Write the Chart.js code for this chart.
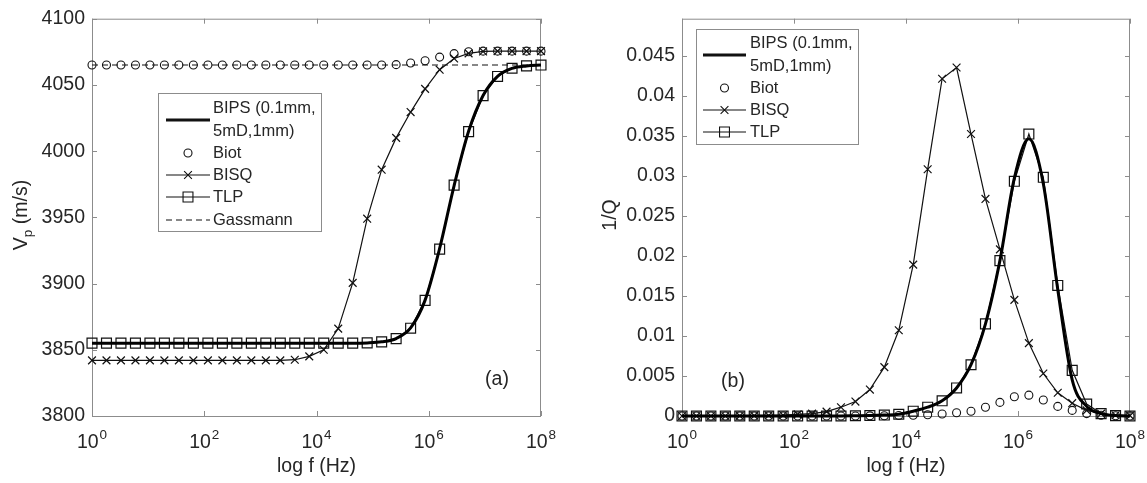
<!DOCTYPE html>
<html>
<head>
<meta charset="utf-8">
<script src="https://cdn.jsdelivr.net/npm/chart.js@4.4.1/dist/chart.umd.min.js"></script>
<style>
  body { margin: 0; background: #fff; }
  #wrap { position: relative; width: 1147px; height: 483px; }
  .pane { position: absolute; top: 0; height: 483px; }
</style>
</head>
<body>
<div id="wrap">
  <div class="pane" style="left:0;width:573px"><canvas id="vpChart" width="573" height="483"></canvas></div>
  <div class="pane" style="left:573px;width:574px"><canvas id="qChart" width="574" height="483"></canvas></div>
</div>
<script>
// log10 of frequency (Hz) at each computed point
const logFreq = [0, 0.258, 0.516, 0.774, 1.032, 1.290, 1.548, 1.806, 2.065, 2.323, 2.581, 2.839, 3.097, 3.355, 3.613, 3.871,
  4.129, 4.387, 4.645, 4.903, 5.161, 5.419, 5.677, 5.935, 6.194, 6.452, 6.710, 6.968, 7.226, 7.484, 7.742, 8];

const freqTicks = [1, 1e2, 1e4, 1e6, 1e8];
const freqTickExp = ['0', '2', '4', '6', '8'];
const vpTicks = [3800, 3850, 3900, 3950, 4000, 4050, 4100];
const qTicks = [0, 0.005, 0.01, 0.015, 0.02, 0.025, 0.03, 0.035, 0.04, 0.045];

// (a) P-wave velocity, m/s
const vpBips = [3855, 3855, 3855, 3855, 3855, 3855, 3855, 3855, 3855, 3855, 3855, 3855, 3855, 3855, 3855, 3855,
  3855, 3855, 3855, 3855.2, 3856, 3858.5, 3866.5, 3887.5, 3926.5, 3974, 4015, 4042, 4056.5, 4062.5, 4064.3, 4065];
const vpBiot = [4065, 4065, 4065, 4065, 4065, 4065, 4065, 4065, 4065, 4065, 4065, 4065, 4065, 4065, 4065, 4065,
  4065, 4065, 4065, 4065, 4065, 4065.3, 4066.5, 4068.3, 4071, 4073.6, 4075, 4075.5, 4075.5, 4075.5, 4075.5, 4075.5];
const vpBisq = [3842, 3842, 3842, 3842, 3842, 3842, 3842, 3842, 3842, 3842, 3842, 3842, 3842, 3842, 3842.5, 3845,
  3850, 3866, 3900.5, 3949, 3986, 4010, 4029.5, 4047, 4061.5, 4070, 4073.8, 4075.3, 4075.5, 4075.5, 4075.5, 4075.5];
const vpTlp = [3855, 3855, 3855, 3855, 3855, 3855, 3855, 3855, 3855, 3855, 3855, 3855, 3855, 3855, 3855, 3855,
  3855, 3855, 3855, 3855.2, 3856, 3858.4, 3866.3, 3887.3, 3926, 3974.3, 4014.7, 4041.9, 4056.4, 4062.6, 4064.4, 4065];
const vpGassmann = [4065, 4065, 4065, 4065, 4065, 4065, 4065, 4065, 4065, 4065, 4065, 4065, 4065, 4065, 4065, 4065,
  4065, 4065, 4065, 4065, 4065, 4065, 4065, 4065, 4065, 4065, 4065, 4065, 4065, 4065, 4065, 4065];

// (b) attenuation 1/Q
const qBips = [0, 0, 0, 0, 0, 0, 0, 0, 0, 0, 0, 0, 0.00003, 0.00006, 0.00012, 0.00022,
  0.0006, 0.0011, 0.0019, 0.0035, 0.0064, 0.0115, 0.0194, 0.0297, 0.0346, 0.029, 0.0158, 0.0045, 0.0012, 0.0003, 0.00005, 0];
const qBiot = [0, 0, 0, 0, 0, 0, 0, 0, 0, 0, 0, 0, 0, 0.00002, 0.00004, 0.00007,
  0.0001, 0.00015, 0.00025, 0.0004, 0.0006, 0.0011, 0.0017, 0.0024, 0.0026, 0.002, 0.0012, 0.0007, 0.0003, 0.0001, 0.00003, 0];
const qBisq = [0, 0, 0, 0, 0.00002, 0.00004, 0.00007, 0.0001, 0.0002, 0.0003, 0.00055, 0.0011, 0.0018, 0.0033, 0.0061, 0.0107,
  0.0189, 0.0308, 0.0421, 0.0435, 0.0352, 0.0271, 0.0208, 0.0145, 0.0091, 0.0053, 0.0029, 0.0016, 0.0007, 0.0003, 0.0001, 0.00005];
const qTlp = [0, 0, 0, 0, 0, 0, 0, 0, 0, 0, 0, 0, 0.00003, 0.00006, 0.00012, 0.00022,
  0.0006, 0.0011, 0.0019, 0.0035, 0.0064, 0.0115, 0.0194, 0.0293, 0.0352, 0.0298, 0.0163, 0.0057, 0.0015, 0.0003, 0.00005, 0];

const FONT = "'Liberation Sans', Arial, sans-serif";
const TEXT = '#262626';
const AXIS = '#8c8c8c';
const FS = 19.5;   // tick / title size
const FSUP = 13.5; // exponent / subscript size

Chart.defaults.font.family = FONT;
Chart.defaults.color = TEXT;

const pts = (vals) => vals.map((v, i) => ({ x: Math.pow(10, logFreq[i]), y: v }));

const bipsSet = (vals) => ({
  label: 'BIPS', data: pts(vals), borderColor: '#000', borderWidth: 3,
  pointRadius: 0, cubicInterpolationMode: 'monotone', clip: false,
});
const biotSet = (vals) => ({
  label: 'Biot', data: pts(vals), showLine: false, pointStyle: 'circle', pointRadius: 4,
  pointBorderWidth: 1.1, pointBorderColor: '#111', pointBackgroundColor: 'rgba(0,0,0,0)', clip: false,
});
const bisqSet = (vals) => ({
  label: 'BISQ', data: pts(vals), borderColor: '#111', borderWidth: 1.2, pointStyle: 'crossRot', pointRadius: 5.5,
  pointBorderWidth: 1.2, pointBorderColor: '#111', pointBackgroundColor: 'rgba(0,0,0,0)', clip: false,
});
const tlpSet = (vals) => ({
  label: 'TLP', data: pts(vals), borderColor: '#111', borderWidth: 1.2, pointStyle: 'rect', pointRadius: 7,
  pointBorderWidth: 1.2, pointBorderColor: '#111', pointBackgroundColor: 'rgba(0,0,0,0)', clip: false,
});

function drawMarker(ctx, style, r, x, y) {
  ctx.beginPath();
  if (style === 'circle') {
    ctx.arc(x, y, r, 0, Math.PI * 2);
  } else if (style === 'rect') {
    const h = r * Math.SQRT1_2;
    ctx.rect(x - h, y - h, 2 * h, 2 * h);
  } else if (style === 'crossRot') {
    const h = r * Math.SQRT1_2;
    ctx.moveTo(x - h, y - h); ctx.lineTo(x + h, y + h);
    ctx.moveTo(x - h, y + h); ctx.lineTo(x + h, y - h);
  }
  ctx.stroke();
}

// box, inward ticks, exponent tick labels, y title with subscript, legend, panel tag
const panelDecor = {
  id: 'panelDecor',
  beforeDatasetsDraw(chart) {
    const { ctx, chartArea: a, scales } = chart;
    ctx.save();
    ctx.strokeStyle = AXIS;
    ctx.lineWidth = 1;
    ctx.strokeRect(a.left + 0.5, a.top + 0.5, a.right - a.left - 1, a.bottom - a.top);
    ctx.beginPath();
    scales.x.ticks.forEach((t) => {
      const px = Math.round(scales.x.getPixelForValue(t.value)) + 0.5;
      ctx.moveTo(px, a.bottom); ctx.lineTo(px, a.bottom - 5);
      ctx.moveTo(px, a.top); ctx.lineTo(px, a.top + 5);
    });
    scales.y.ticks.forEach((t) => {
      const py = Math.round(scales.y.getPixelForValue(t.value)) + 0.5;
      ctx.moveTo(a.left, py); ctx.lineTo(a.left + 5, py);
      ctx.moveTo(a.right, py); ctx.lineTo(a.right - 5, py);
    });
    ctx.stroke();
    ctx.restore();
  },
  afterDraw(chart, args, opts) {
    const { ctx, scales } = chart;
    ctx.save();
    ctx.fillStyle = TEXT;
    ctx.textBaseline = 'alphabetic';
    ctx.textAlign = 'left';

    // x tick labels 10^n
    freqTicks.forEach((v, i) => {
      const px = scales.x.getPixelForValue(v);
      ctx.font = `${FS}px ${FONT}`;
      const w1 = ctx.measureText('10').width;
      ctx.font = `${FSUP}px ${FONT}`;
      const w2 = ctx.measureText(freqTickExp[i]).width;
      const x0 = px - (w1 + 1 + w2) / 2;
      ctx.font = `${FS}px ${FONT}`;
      ctx.fillText('10', x0, 448);
      ctx.font = `${FSUP}px ${FONT}`;
      ctx.fillText(freqTickExp[i], x0 + w1 + 1, 439);
    });

    // y title (rotated), optional subscript
    const t = opts.yTitle;
    ctx.save();
    ctx.translate(t.x, t.y);
    ctx.rotate(-Math.PI / 2);
    ctx.textBaseline = 'middle';
    ctx.font = `${FS}px ${FONT}`;
    const wa = ctx.measureText(t.main).width;
    const wc = ctx.measureText(t.rest).width;
    ctx.font = `${FSUP}px ${FONT}`;
    const wb = t.sub ? ctx.measureText(t.sub).width : 0;
    let cx = -(wa + wb + wc) / 2;
    ctx.font = `${FS}px ${FONT}`;
    ctx.fillText(t.main, cx, 0);
    cx += wa;
    if (t.sub) {
      ctx.font = `${FSUP}px ${FONT}`;
      ctx.fillText(t.sub, cx, 6);
      cx += wb;
    }
    ctx.font = `${FS}px ${FONT}`;
    ctx.fillText(t.rest, cx, 0);
    ctx.restore();

    // legend
    const lg = opts.legend;
    ctx.fillStyle = '#fff';
    ctx.fillRect(lg.x, lg.y, lg.w, lg.h);
    ctx.strokeStyle = AXIS;
    ctx.lineWidth = 1;
    ctx.strokeRect(lg.x + 0.5, lg.y + 0.5, lg.w, lg.h);
    ctx.font = `16.5px ${FONT}`;
    ctx.textBaseline = 'middle';
    lg.items.forEach((it) => {
      const ds = chart.data.datasets[it.ds];
      ctx.strokeStyle = '#111';
      if (ds.showLine !== false) {
        ctx.save();
        ctx.lineWidth = ds.borderWidth;
        ctx.setLineDash(ds.borderDash || []);
        ctx.beginPath();
        ctx.moveTo(lg.x0, it.y);
        ctx.lineTo(lg.x1, it.y);
        ctx.stroke();
        ctx.restore();
      }
      if (ds.pointRadius > 0) {
        ctx.lineWidth = 1.1;
        drawMarker(ctx, ds.pointStyle, ds.pointRadius, (lg.x0 + lg.x1) / 2, it.y);
      }
      ctx.fillStyle = TEXT;
      const n = it.text.length;
      it.text.forEach((s, k) => ctx.fillText(s, lg.tx, it.y + (k - (n - 1) / 2) * 22.5));
    });

    // panel tag
    ctx.font = `${FS}px ${FONT}`;
    ctx.textAlign = 'center';
    ctx.fillText(opts.tag.text, opts.tag.x, opts.tag.y);
    ctx.restore();
  },
};

const xScale = {
  type: 'logarithmic',
  min: 1,
  max: 1e8,
  afterBuildTicks: (s) => { s.ticks = freqTicks.map((v) => ({ value: v })); },
  afterFit: (s) => { s.height = 67; },
  ticks: { display: false },
  grid: { display: false },
  border: { display: false },
  title: { display: true, text: 'log f (Hz)', font: { size: FS }, color: TEXT, padding: { top: 0, bottom: 5 } },
};

function yScale(min, max, ticks, width) {
  return {
    min: min,
    max: max,
    afterBuildTicks: (s) => { s.ticks = ticks.map((v) => ({ value: v })); },
    afterFit: (s) => { s.width = width; },
    ticks: { font: { size: FS }, color: TEXT, padding: 7, callback: (v) => String(v) },
    grid: { display: false, drawTicks: false },
    border: { display: false },
  };
}

new Chart(document.getElementById('vpChart'), {
  type: 'line',
  data: {
    datasets: [bipsSet(vpBips), biotSet(vpBiot), bisqSet(vpBisq), tlpSet(vpTlp), {
      label: 'Gassmann', data: pts(vpGassmann), borderColor: '#111', borderWidth: 1.1,
      borderDash: [6, 4], pointRadius: 0, clip: false,
    }],
  },
  options: {
    responsive: false,
    animation: false,
    events: [],
    devicePixelRatio: 1,
    layout: { padding: { top: 15, right: 32, left: 0, bottom: 0 } },
    scales: { x: xScale, y: yScale(3800, 4100, vpTicks, 92) },
    plugins: {
      legend: { display: false },
      tooltip: { enabled: false },
      panelDecor: {
        yTitle: { x: 22, y: 215, main: 'V', sub: 'p', rest: ' (m/s)' },
        legend: {
          x: 158, y: 93, w: 163, h: 138, x0: 166, x1: 210, tx: 213,
          items: [
            { ds: 0, y: 120, text: ['BIPS (0.1mm,', '5mD,1mm)'] },
            { ds: 1, y: 153, text: ['Biot'] },
            { ds: 2, y: 175, text: ['BISQ'] },
            { ds: 3, y: 197, text: ['TLP'] },
            { ds: 4, y: 220, text: ['Gassmann'] },
          ],
        },
        tag: { text: '(a)', x: 497, y: 380 },
      },
    },
  },
  plugins: [panelDecor],
});

new Chart(document.getElementById('qChart'), {
  type: 'line',
  data: {
    datasets: [bipsSet(qBips), biotSet(qBiot), bisqSet(qBisq), tlpSet(qTlp)],
  },
  options: {
    responsive: false,
    animation: false,
    events: [],
    devicePixelRatio: 1,
    layout: { padding: { top: 15, right: 17, left: 0, bottom: 0 } },
    scales: { x: xScale, y: yScale(0, 0.0496, qTicks, 109) },
    plugins: {
      legend: { display: false },
      tooltip: { enabled: false },
      panelDecor: {
        yTitle: { x: 38, y: 215, main: '1/Q', sub: '', rest: '' },
        legend: {
          x: 123, y: 29, w: 162, h: 115, x0: 130, x1: 173, tx: 177,
          items: [
            { ds: 0, y: 55, text: ['BIPS (0.1mm,', '5mD,1mm)'] },
            { ds: 1, y: 88, text: ['Biot'] },
            { ds: 2, y: 110, text: ['BISQ'] },
            { ds: 3, y: 132, text: ['TLP'] },
          ],
        },
        tag: { text: '(b)', x: 160, y: 382 },
      },
    },
  },
  plugins: [panelDecor],
});
</script>
</body>
</html>
